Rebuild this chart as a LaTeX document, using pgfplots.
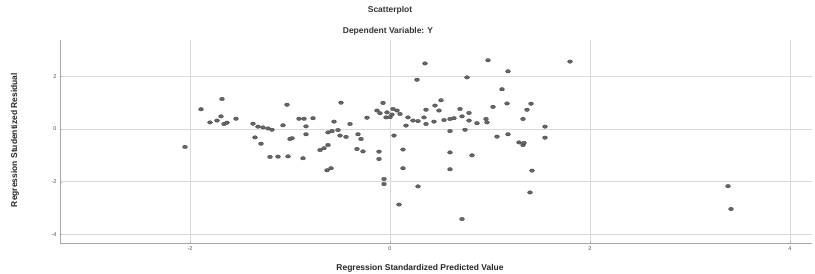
\documentclass[border=0pt]{standalone}
\usepackage{pgfplots}
\pgfplotsset{compat=1.18}
\usepackage{fontspec}
\setmainfont{Liberation Sans}
\begin{document}
\begin{tikzpicture}
\useasboundingbox (-60bp,-31bp) rectangle (755bp,243bp);
\begin{axis}[
  at={(0,0)}, anchor=south west,
  scale only axis, width=752bp, height=203bp,
  xmin=-3.3, xmax=4.22, ymin=-4.33, ymax=3.38,
  axis lines*=left,
  axis line style={gray!70, line width=0.6pt},
  xtick={-2,0,2,4}, ytick={-4,-2,0,2},
  grid=major, grid style={gray!30, line width=0.8pt},
  tick style={gray!60},
  major tick length=2bp,
  tick label style={font=\fontsize{5.5}{6}\selectfont, text=black!70},
  /pgf/number format/assume math mode=true,
  clip=false,
]
\addplot[only marks, mark=*, mark size=1.75bp,
  mark options={xscale=1.4, fill=black!60, draw=black!75, line width=0.3pt}]
coordinates {
(-2.05,-0.68) (-1.89,0.75) (-1.68,1.14) (-1.80,0.25) (-1.73,0.32)
(-1.69,0.48) (-1.66,0.19) (-1.63,0.24) (-1.54,0.39) (-1.37,0.20)
(-1.32,0.09) (-1.27,0.06) (-1.18,-0.03) (-1.22,0.02) (-1.35,-0.32)
(-1.29,-0.56) (-1.20,-1.06) (-1.12,-1.05) (-1.02,-1.04) (-1.07,0.14)
(-1.03,0.92) (-1.00,-0.38) (-0.98,-0.35) (-0.91,0.39) (-0.86,0.39)
(-0.84,0.10) (-0.84,-0.20) (-0.77,0.41) (-0.87,-1.11) (-0.70,-0.80)
(-0.66,-0.73) (-0.62,-0.61) (-0.63,-1.57) (-0.59,-1.49) (-0.62,-0.13)
(-0.58,-0.08) (-0.56,0.28) (-0.52,-0.04) (-0.49,1.00) (-0.50,-0.25)
(-0.44,-0.30) (-0.40,0.19) (-0.33,-0.76) (-0.32,-0.20) (-0.27,-0.85)
(-0.29,-0.38) (-0.23,0.43) (-0.11,-0.86) (-0.11,-1.14) (-0.07,0.99)
(-0.13,0.70) (-0.06,-1.90) (-0.06,-2.09) (-0.03,0.63) (0.03,0.76)
(0.07,0.70) (-0.04,0.44) (0.00,0.45) (0.04,-0.25) (0.09,-2.87)
(0.13,-0.78) (0.13,-1.49) (0.16,0.13) (0.18,0.44) (0.28,-2.18)
(0.27,1.87) (0.35,2.49) (-0.10,0.60) (0.02,0.55) (0.10,0.57)
(0.98,2.61) (0.77,1.96) (1.18,2.19) (1.80,2.56) (1.12,1.51)
(0.51,1.09) (0.45,0.89) (0.49,0.70) (0.36,0.73) (0.34,0.44)
(0.36,0.19) (0.23,0.32) (0.28,0.30) (0.44,0.28) (0.54,0.34)
(0.60,0.38) (0.64,0.41) (0.70,0.76) (0.72,0.48) (0.79,0.61)
(0.79,0.32) (0.87,0.22) (0.96,0.38) (0.97,0.25) (0.60,-0.08)
(0.75,-0.03) (1.03,0.84) (1.17,0.97) (1.07,-0.29) (1.18,-0.20)
(1.33,0.38) (1.37,0.73) (1.41,0.96) (1.55,0.09) (1.55,-0.33)
(1.29,-0.51) (1.33,-0.61) (1.34,-0.53) (0.60,-0.89) (0.82,-1.00)
(0.60,-1.53) (1.42,-1.58) (1.40,-2.41) (0.72,-3.42)
(3.38,-2.17) (3.41,-3.04)
};
\end{axis}
\node[font=\fontsize{8.5}{10}\selectfont\bfseries, text=black!80] at (330bp,233bp) {Scatterplot};
\node[font=\fontsize{8.5}{10}\selectfont\bfseries, text=black!80] at (328bp,212bp) {Dependent Variable: Y};
\node[font=\fontsize{8.5}{10}\selectfont\bfseries, text=black!85] at (360bp,-25bp) {Regression Standardized Predicted Value};
\node[font=\fontsize{8.5}{10}\selectfont\bfseries, text=black!85, rotate=90] at (-45bp,103bp) {Regression Studentized Residual};
\end{tikzpicture}
\end{document}
